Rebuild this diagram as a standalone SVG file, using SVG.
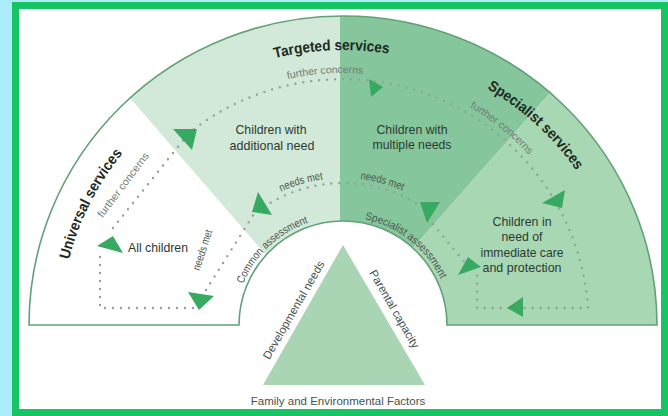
<svg xmlns="http://www.w3.org/2000/svg" xmlns:xlink="http://www.w3.org/1999/xlink" width="668" height="416" viewBox="0 0 668 416">
  <style>
    text { font-family: "Liberation Sans", Arial, sans-serif; }
    .title { font-size: 15px; font-weight: bold; fill: #1e2a22; }
    .node { font-size: 13.5px; fill: #2d3a31; text-anchor: middle; }
    .note { font-size: 10.5px; fill: #6f7c74; }
    .flow { font-size: 11px; fill: #4a5650; }
    .tri { font-size: 11.5px; fill: #4a524d; text-anchor: middle; }
    .dots { fill: none; stroke: #8fa397; stroke-width: 2.4; stroke-linecap: round; stroke-dasharray: 0 8; }
    .arrow { fill: #38a960; }
    .edge { fill: none; stroke: #62a078; stroke-width: 1.6; }
  </style>
  <defs>
    <!-- baseline arcs for curved labels, all centred on (343,325) -->
    <path id="arcTitle" d="M 61 325 A 282 275 0 0 1 625 325"/>
    <path id="arcConcern" d="M 91 325 A 252 252 0 0 1 595 325"/>
    <path id="arcNeeds" d="M 196 325 A 147 147 0 0 1 490 325"/>
    <path id="arcAssess" d="M 235 325 A 108 108 0 0 1 451 325"/>
  </defs>

  <!-- page background and frame -->
  <rect x="0" y="0" width="668" height="416" fill="#acedfc"/>
  <rect x="15.5" y="5.5" width="649" height="407" fill="#ffffff" stroke="#16c464" stroke-width="7"/>

  <!-- universal services sector (white base of the band) -->
  <g id="universal-services">
    <path d="M 29 325 A 314 309 0 0 1 657 325 L 447 325 A 104 104 0 0 0 239 325 Z" fill="#ffffff"/>
    <text class="title"><textPath href="#arcTitle" startOffset="14.4%" text-anchor="middle" textLength="120" lengthAdjust="spacingAndGlyphs">Universal services</textPath></text>
    <text class="node" x="158" y="252" textLength="60" lengthAdjust="spacingAndGlyphs">All children</text>
  </g>

  <g id="targeted-services">
    <path d="M 130 98 A 314 309 0 0 1 340 16 L 340 221 A 104 104 0 0 0 266 255 Z" fill="#d2e8d8"/>
    <text class="node" x="271" y="134" textLength="71" lengthAdjust="spacingAndGlyphs">Children with</text>
    <text class="node" x="272" y="150" textLength="85" lengthAdjust="spacingAndGlyphs">additional need</text>
  </g>

  <g id="multiple-needs">
    <path d="M 340 16 A 314 309 0 0 1 550 93 L 413 248 A 104 104 0 0 0 340 221 Z" fill="#86c69d"/>
    <text class="node" x="412" y="134" textLength="71" lengthAdjust="spacingAndGlyphs">Children with</text>
    <text class="node" x="412" y="149" textLength="79" lengthAdjust="spacingAndGlyphs">multiple needs</text>
  </g>

  <g id="specialist-services">
    <path d="M 550 93 A 314 309 0 0 1 657 325 L 447 325 A 104 104 0 0 0 413 248 Z" fill="#a8d7b3"/>
    <text class="node" x="522" y="226" textLength="59" lengthAdjust="spacingAndGlyphs">Children in</text>
    <text class="node" x="522" y="241" textLength="41" lengthAdjust="spacingAndGlyphs">need of</text>
    <text class="node" x="522" y="257" textLength="83" lengthAdjust="spacingAndGlyphs">immediate care</text>
    <text class="node" x="522" y="272" textLength="79" lengthAdjust="spacingAndGlyphs">and protection</text>
  </g>

  <!-- band outline -->
  <path class="edge" d="M 29 325 A 314 309 0 0 1 657 325 L 447 325 A 104 104 0 0 0 239 325 Z"/>

  <!-- service titles along the outer band -->
  <g id="service-titles">
    <text class="title"><textPath href="#arcTitle" startOffset="48.7%" text-anchor="middle" textLength="115" lengthAdjust="spacingAndGlyphs">Targeted services</textPath></text>
    <text class="title"><textPath href="#arcTitle" startOffset="74.2%" text-anchor="middle" textLength="122" lengthAdjust="spacingAndGlyphs">Specialist services</textPath></text>
  </g>

  <!-- assessment triangle -->
  <g id="assessment-triangle">
    <polygon points="343,245 263,385 425,385" fill="#a9d5b4"/>
    <text class="tri" transform="translate(297,312) rotate(-60)">Developmental needs</text>
    <text class="tri" transform="translate(391,311) rotate(60)">Parental capacity</text>
    <text class="tri" x="338" y="405">Family and Environmental Factors</text>
  </g>

  <!-- flows between the services -->
  <g id="connectors">
    <path class="dots" d="M 113 228 L 189 133 A 246 246 0 0 1 588 308 L 477 308 L 477 272"/>
    <path class="dots" d="M 100 257 L 100 308 L 196 308"/>
    <path class="dots" d="M 206 290 L 257 209"/>
    <path class="dots" d="M 264 207 A 142 142 0 0 1 422 207"/>
    <path class="dots" d="M 428 218 L 466 264"/>

    <polygon class="arrow" points="173,129 197,129 192,150"/>
    <polygon class="arrow" points="369,79 383,87 371,97"/>
    <polygon class="arrow" points="97,246 113,236 123,253"/>
    <polygon class="arrow" points="188,292 214,296 199,310"/>
    <polygon class="arrow" points="258,192 272,215 252,212"/>
    <polygon class="arrow" points="420,202 440,202 427,223"/>
    <polygon class="arrow" points="565,190 542,203 562,208"/>
    <polygon class="arrow" points="458,275 468,257 481,267"/>
    <polygon class="arrow" points="507,308 523,297 523,317"/>

    <text class="note" transform="translate(126,187) rotate(-53)" text-anchor="middle" textLength="78" lengthAdjust="spacingAndGlyphs">further concerns</text>
    <text class="note"><textPath href="#arcConcern" startOffset="47.75%" text-anchor="middle" textLength="76" lengthAdjust="spacingAndGlyphs">further concerns</textPath></text>
    <text class="note"><textPath href="#arcConcern" startOffset="71.6%" text-anchor="middle" textLength="76" lengthAdjust="spacingAndGlyphs">further concerns</textPath></text>

    <text class="flow" transform="translate(206,251) rotate(-72)" text-anchor="middle" textLength="42" lengthAdjust="spacingAndGlyphs">needs met</text>
    <text class="flow"><textPath href="#arcNeeds" startOffset="40.9%" text-anchor="middle" textLength="44" lengthAdjust="spacingAndGlyphs">needs met</textPath></text>
    <text class="flow"><textPath href="#arcNeeds" startOffset="58.5%" text-anchor="middle" textLength="44" lengthAdjust="spacingAndGlyphs">needs met</textPath></text>

    <text class="flow"><textPath href="#arcAssess" startOffset="26%" text-anchor="middle" textLength="92" lengthAdjust="spacingAndGlyphs">Common assessment</textPath></text>
    <text class="flow"><textPath href="#arcAssess" startOffset="71.2%" text-anchor="middle" textLength="100" lengthAdjust="spacingAndGlyphs">Specialist assessment</textPath></text>
  </g>
</svg>
